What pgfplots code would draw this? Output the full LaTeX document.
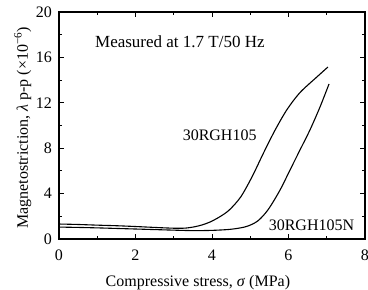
\documentclass[border=0pt]{standalone}
\usepackage{fontspec}
\setmainfont{Liberation Serif}
\usepackage{pgfplots}
\pgfplotsset{compat=1.18}
\begin{document}
\fontsize{16bp}{19bp}\selectfont
\begin{tikzpicture}
\begin{axis}[
  at={(0,0)}, anchor=south west,
  width=306bp, height=227bp, scale only axis,
  xmin=0, xmax=8, ymin=0, ymax=20,
  xtick={0,2,4,6,8}, ytick={0,4,8,12,16,20},
  minor xtick={1,3,5,7}, minor ytick={2,6,10,14,18},
  tick align=inside,
  major tick length=5bp, minor tick length=3bp,
  every tick/.style={black, line width=0.9bp},
  axis line style={line width=1.1bp},
  /pgf/number format/assume math mode=true,
  xticklabel style={anchor=base, yshift=-21bp, inner sep=0pt},
  yticklabel style={anchor=east, inner sep=0pt, xshift=-7bp},
  xlabel={Compressive stress, \textit{σ} (MPa)},
  ylabel={Magnetostriction, \textit{λ} p-p (×10\textsuperscript{−6})},
  every axis x label/.style={at={(axis description cs:0.454,0)}, anchor=base, yshift=-47bp, inner sep=0pt},
  every axis y label/.style={at={(axis description cs:-0.118,0.49)}, anchor=center, rotate=90, inner sep=0pt},
  clip=false,
]
\addplot[black, line width=1.1bp, smooth] coordinates {
(0,1.32) (0.5,1.28) (1,1.22) (1.5,1.17) (2,1.10) (2.5,1.02) (3,0.95) (3.3,0.96)
(3.55,1.08) (3.75,1.25) (3.95,1.5) (4.2,1.95) (4.45,2.55) (4.75,3.7) (5.05,5.5)
(5.35,7.6) (5.65,9.6) (5.96,11.4) (6.3,12.9) (6.75,14.3) (7.03,15.15)
};
\addplot[black, line width=1.1bp, smooth] coordinates {
(0,1.05) (0.5,1.02) (1,0.98) (1.5,0.93) (2,0.88) (2.5,0.83) (3,0.78) (3.5,0.74)
(4,0.76) (4.5,0.86) (4.9,1.1) (5.2,1.6) (5.47,2.6) (5.78,4.32) (6.04,6.08)
(6.3,7.84) (6.56,9.6) (6.82,11.6) (7.06,13.66)
};
\node[anchor=west, inner sep=0pt, font=\fontsize{17bp}{20bp}\selectfont] at (axis cs:0.94,17.36) {Measured at 1.7 T/50 Hz};
\node[inner sep=0pt] at (axis cs:4.2,9.1) {30RGH105};
\node[inner sep=0pt] at (axis cs:6.6,1.23) {30RGH105N};
\end{axis}
\pgfresetboundingbox
\path (-59bp,-51bp) rectangle (309bp,239bp);
\end{tikzpicture}
\end{document}
